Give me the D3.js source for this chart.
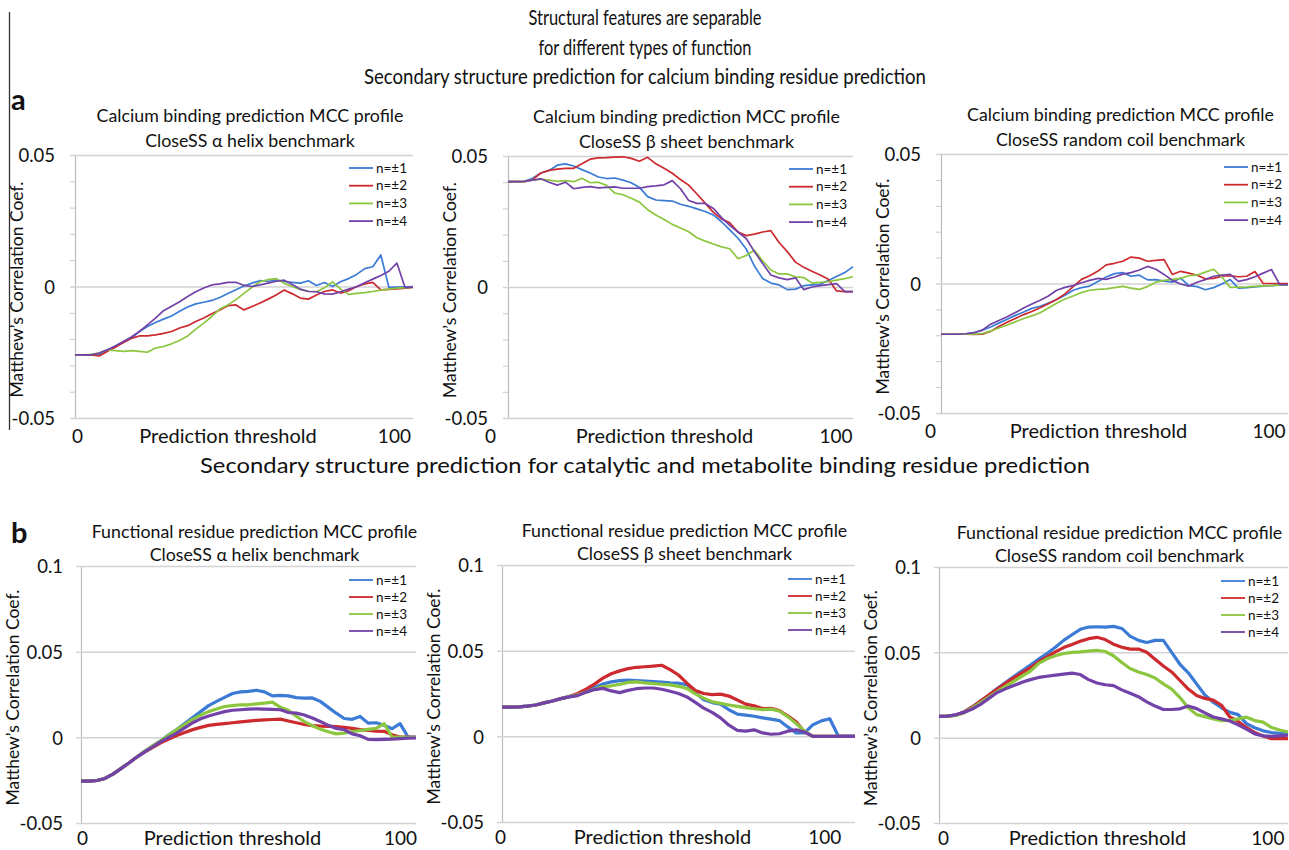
<!DOCTYPE html>
<html>
<head>
<meta charset="utf-8">
<script src="https://cdn.jsdelivr.net/npm/d3@7"></script>
<style>
  body { margin: 0; background: #fff; }
  svg { display: block; }
  text { font-family: Lato, "Open Sans", sans-serif; fill: #111; }
</style>
</head>
<body>
<svg id="chart" width="1289" height="850"></svg>
<script>
// thresholds 0..105 in steps of 2.5, MCC values below are x1000
const thresholds = d3.range(0, 105.01, 2.5);

const seriesNames = ['n=±1', 'n=±2', 'n=±3', 'n=±4'];

const ticksA = [-0.05, 0, 0.05];
const tickLabelsA = ['-0.05', '0', '0.05'];
const minorTicksA = [-0.04, -0.03, -0.02, -0.01, 0.01, 0.02, 0.03, 0.04];
const ticksB = [-0.05, 0, 0.05, 0.1];
const tickLabelsB = ['-0.05', '0', '0.05', '0.1'];
const xTicks = [0, 100];
const xTickLabels = ['0', '100'];

const headingTop = ['Structural features are separable', 'for different types of function',
  'Secondary structure prediction for calcium binding residue prediction'];
const headingB = 'Secondary structure prediction for catalytic and metabolite binding residue prediction';

const titleCaHelix = ['Calcium binding prediction MCC profile', 'CloseSS α helix benchmark'];
const titleCaSheet = ['Calcium binding prediction MCC profile', 'CloseSS β sheet benchmark'];
const titleCaCoil = ['Calcium binding prediction MCC profile', 'CloseSS random coil benchmark'];
const titleFnHelix = ['Functional residue prediction MCC profile', 'CloseSS α helix benchmark'];
const titleFnSheet = ['Functional residue prediction MCC profile', 'CloseSS β sheet benchmark'];
const titleFnCoil = ['Functional residue prediction MCC profile', 'CloseSS random coil benchmark'];

// --- a: calcium binding, alpha helix
const caHelixN1 = [-26,-26,-26,-25.8,-24.4, -22.8,-21.3,-19.7,-17.1,-15.2, -13.7,-12.4,-11.2,-9.4,-7.8,
  -6.6,-6.0,-5.3,-4.2,-2.7, -1.2,0.2,1.3,2.2,2.0, 2.4,1.9,1.6,1.3,2.2, 0.4,1.5,0.0,1.8,3.0,
  4.6,6.8,7.5,12.0,-0.3, -0.2,-0.1,0];
const caHelixN2 = [-26,-26,-26,-26.4,-24.7, -23.1,-21.3,-19.7,-18.8,-18.8, -18.4,-17.8,-17.1,-15.8,-14.9,
  -13.3,-12.0,-10.4,-8.9,-7.3, -7.0,-8.9,-7.6,-6.3,-4.8, -3.2,-1.3,-2.8,-4.4,-4.8, -3.2,-1.9,-1.3,-2.5,-1.6,
  0.0,1.0,1.6,-1.3,-1.1, -0.9,-0.6,-0.3];
const caHelixN3 = [-26,-26,-25.8,-25.3,-24.1, -24.4,-24.7,-24.4,-24.7,-25.0, -23.4,-22.8,-21.8,-20.5,-18.8,
  -16.2,-13.9,-11.4,-8.6,-7.0, -5.0,-2.6,-0.3,1.8,2.6, 3.0,1.2,0.0,-1.2,-1.8, -2.0,-0.5,1.8,-1.0,-3.0,
  -2.6,-2.3,-1.9,-1.4,-1.0, -0.6,-0.4,-0.3];
const caHelixN4 = [-26,-26,-26,-25.3,-24.1, -22.6,-20.9,-19.2,-17.1,-14.6, -12.0,-9.2,-7.5,-5.8,-3.8,
  -2.0,-0.6,0.6,1.0,1.6, 1.6,0.4,0.0,0.6,1.3, 2.0,2.4,0.8,-1.0,-1.9, -2.0,-2.8,-2.9,-2.0,-1.0,
  -0.1,1.4,2.8,4.2,5.8, 8.9,-0.3,-0.2];

// --- a: calcium binding, beta sheet
const caSheetN1 = [40.2,40.2,40.3,41.5,43.5, 44.5,46.5,47.0,46.2,44.8, 43.5,42.0,41.4,41.6,40.8,
  39.8,38.0,34.5,33.2,33.0, 32.8,31.6,30.8,29.8,28.8, 27.5,24.9,21.8,18.6,14.5, 8.0,3.2,1.5,0.8,-1.0,
  -0.8,0.5,0.8,1.0,2.5, 4.0,5.5,7.8];
const caSheetN2 = [40.2,40.2,40.2,41.0,43.5, 44.5,45.0,45.3,45.3,47.0, 48.8,49.3,49.4,49.6,49.7,
  49.1,48.0,49.5,47.0,45.3, 43.4,41.0,38.9,35.5,32.0, 28.5,26.0,24.5,21.0,19.6, 20.2,21.0,21.5,17.0,13.5,
  9.5,7.5,6.0,4.6,3.0, -1.5,-1.8,-1.8];
const caSheetN3 = [40.2,40.2,40.2,40.8,41.2, 40.8,40.3,40.6,40.2,41.5, 39.8,40.0,38.8,35.8,35.2,
  33.9,32.4,29.5,27.5,25.8, 23.9,22.5,21.1,18.8,17.5, 16.4,15.3,14.6,10.8,12.0, 14.0,10.0,6.5,5.0,5.0,
  3.9,3.6,1.5,1.8,2.0, 2.6,3.2,3.9];
const caSheetN4 = [40.2,40.2,40.3,40.8,41.3, 40.0,38.9,40.0,37.5,38.0, 38.3,37.8,38.0,38.2,37.7,
  37.7,37.7,38.3,38.6,39.0, 40.6,37.5,33.0,31.9,31.9, 30.0,26.5,23.5,21.0,18.5, 13.5,9.0,4.6,3.5,2.8,
  3.5,-1.0,0.0,0.5,0.9, 1.3,-1.8,-1.8];

// --- a: calcium binding, random coil
const caCoilN1 = [-19.6,-19.6,-19.6,-19.4,-19.0, -18.0,-16.8,-15.3,-13.8,-12.3, -11.0,-9.6,-8.8,-7.5,-6.2,
  -4.5,-2.6,-1.6,-1.0,0.8, 2.5,3.8,4.2,2.8,3.2, 1.4,1.5,0.9,0.5,2.1, -0.8,-1.2,-2.4,-1.6,-0.2,
  1.5,-1.8,-1.6,-1.3,-1.0, -0.8,-0.5,-0.4];
const caCoilN2 = [-19.6,-19.6,-19.6,-19.6,-19.7, -19.6,-18.5,-16.6,-15.0,-13.5, -12.0,-10.8,-9.4,-7.8,-6.2,
  -4.0,-1.2,1.6,3.0,4.8, 7.2,7.8,8.6,10.2,9.8, 8.6,8.9,9.2,3.5,4.7, 4.0,3.2,1.8,2.0,2.8,
  3.0,2.6,2.8,4.6,0.0, 0.0,0.0,0.0];
const caCoilN3 = [-19.6,-19.6,-19.6,-19.6,-19.6, -19.3,-18.4,-17.2,-16.0,-14.8, -13.5,-12.5,-11.3,-9.5,-7.6,
  -6.0,-4.8,-3.5,-2.6,-2.3, -2.1,-1.6,-1.1,-1.8,-2.3, -1.2,0.5,1.2,1.6,2.0, 3.0,3.3,4.4,5.5,2.5,
  -1.5,-1.4,-1.3,-1.1,-0.9, -0.8,-0.6,-0.5];
const caCoilN4 = [-19.6,-19.6,-19.6,-19.4,-19.0, -18.0,-15.7,-14.3,-12.8,-11.2, -9.5,-7.9,-6.5,-4.8,-2.6,
  -1.5,-0.8,0.3,1.2,2.0, 1.6,2.5,3.6,4.2,5.2, 6.6,5.5,3.5,1.2,-0.2, -1.0,0.5,1.5,2.8,3.2,
  3.5,0.8,1.5,2.6,4.0, 5.4,-0.4,-0.4];

// --- b: functional residues, alpha helix
const fnHelixN1 = [-25.6,-25.6,-25.2,-24.0,-21.5, -18.3,-15.0,-11.5,-8.0,-5.0, -2.0,1.5,4.5,8.0,11.5,
  15.0,18.5,21.0,23.3,25.6, 26.5,26.8,27.5,26.5,24.2, 24.5,24.2,23.2,22.9,23.0, 21.0,17.5,14.1,11.0,10.5,
  12.2,8.3,8.5,7.0,5.0, 8.0,0.2,0.2];
const fnHelixN2 = [-25.6,-25.6,-25.2,-24.0,-21.5, -18.3,-15.0,-11.5,-8.5,-5.8, -3.2,-1.0,1.0,2.8,4.5,
  5.8,7.0,7.6,8.0,8.5, 9.0,9.5,9.9,10.2,10.4, 10.6,9.5,8.5,7.5,6.8, 6.5,6.4,6.3,5.8,5.2,
  4.5,4.0,3.6,3.5,1.5, 0.2,0.1,0.0];
const fnHelixN3 = [-25.6,-25.6,-25.2,-24.0,-21.5, -18.3,-15.0,-11.5,-8.2,-5.0, -2.0,1.2,4.5,7.5,10.5,
  13.0,15.0,16.5,18.0,18.5, 19.0,19.0,19.5,20.0,20.5, 17.5,15.8,12.3,9.2,6.8, 4.8,3.3,2.0,2.5,3.3,
  4.0,4.6,5.2,8.0,0.2, 0.1,0.0,0.0];
const fnHelixN4 = [-25.6,-25.6,-25.2,-24.0,-21.5, -18.3,-15.0,-11.5,-8.5,-5.5, -2.5,0.0,2.5,5.5,8.5,
  10.8,12.5,13.8,15.0,15.8, 16.1,16.5,16.6,16.5,16.3, 16.1,14.5,14.1,13.0,11.3, 9.2,7.0,5.2,4.4,2.0,
  0.9,-1.2,-1.3,-1.2,-1.0, -0.8,-0.5,-0.4];

// --- b: functional residues, beta sheet
const fnSheetN1 = [17.1,17.1,17.2,17.6,18.3, 19.5,20.6,22.0,23.2,24.2, 26.0,28.5,30.5,31.8,32.5,
  32.8,32.5,32.3,32.0,31.6, 31.2,31.0,30.2,25.5,21.4, 19.7,18.8,15.5,13.0,12.4, 11.7,10.8,10.0,9.2,5.5,
  2.0,2.0,6.8,9.0,10.3, 0.3,0.2,0.2];
const fnSheetN2 = [17.1,17.1,17.2,17.6,18.3, 19.5,20.6,22.0,23.2,25.0, 27.5,30.5,34.0,36.5,38.2,
  39.5,40.3,40.6,41.0,41.5, 38.9,35.8,31.0,26.8,25.0, 24.3,24.6,23.5,21.2,18.8, 17.8,16.2,16.4,15.0,12.0,
  8.5,2.5,0.0,0.0,0.0, 0.0,0.0,0.0];
const fnSheetN3 = [17.1,17.1,17.2,17.6,18.3, 19.5,20.6,22.0,23.2,24.2, 25.8,27.5,29.0,29.5,30.3,
  31.5,31.8,31.2,30.8,30.4, 30.0,29.2,28.0,24.8,22.3, 20.2,19.2,18.3,17.5,16.8, 16.1,15.6,15.9,14.8,11.5,
  7.5,3.0,0.0,0.0,0.0, 0.0,0.0,0.0];
const fnSheetN4 = [17.1,17.1,17.2,17.6,18.3, 19.5,20.6,22.0,23.0,23.8, 25.8,27.3,28.0,26.5,25.5,
  26.8,27.8,28.2,28.2,27.5, 26.3,25.0,23.0,19.8,16.5, 14.0,10.8,6.5,3.5,3.0, 3.8,2.0,1.2,1.5,3.0,
  3.8,2.5,0.0,0.0,0.0, 0.0,0.0,0.0];

// --- b: functional residues, random coil
const fnCoilN1 = [12.5,12.6,13.2,15.0,18.0, 21.5,25.0,28.8,32.3,35.8, 39.2,42.6,46.0,49.3,53.0,
  57.0,60.3,63.5,64.8,65.0, 64.8,65.2,64.0,59.5,57.0, 55.8,57.0,57.0,50.0,43.0, 38.0,31.5,25.0,20.8,17.5,
  14.8,13.5,8.2,5.8,4.0, 3.0,2.5,2.3];
const fnCoilN2 = [12.5,12.6,13.2,15.0,18.0, 21.5,25.0,28.5,31.8,35.0, 38.0,41.0,44.5,47.3,50.3,
  52.8,54.6,56.5,58.0,58.8, 57.5,54.8,53.0,51.9,51.9, 50.0,46.0,42.0,38.5,33.5, 28.5,24.7,23.0,22.0,19.0,
  12.1,9.5,6.0,3.0,1.0, -0.6,-0.6,-0.6];
const fnCoilN3 = [12.5,12.6,13.0,14.5,17.5, 20.5,23.8,27.0,30.0,33.0, 36.0,39.0,43.5,46.2,48.0,
  49.3,50.0,50.3,50.8,51.2, 50.5,48.0,44.0,40.5,38.5, 37.0,35.0,31.5,28.5,23.5, 17.5,13.5,12.3,11.0,10.0,
  10.1,11.0,12.0,10.0,9.1, 6.0,4.5,3.3];
const fnCoilN4 = [12.5,12.6,13.4,14.8,16.8, 19.5,23.0,26.5,28.6,30.5, 32.5,34.0,35.3,36.0,36.6,
  37.2,37.8,37.0,34.0,32.0, 31.0,30.5,28.0,26.0,24.0, 21.0,18.5,16.5,16.5,16.9, 18.5,17.0,14.5,12.1,11.0,
  9.8,7.5,5.0,2.2,1.0, 0.8,1.0,1.4];

const colors = ['#3b7bd6', '#cc2a2e', '#8cc63f', '#7242a8'];

const panels = [
  { title: titleCaHelix, series: [caHelixN1, caHelixN2, caHelixN3, caHelixN4], ticks: ticksA, labels: tickLabelsA,
    minor: minorTicksA, dom: [-0.05, 0.05], l: 75, r: 413, t: 155, b: 418, zeroDx: 2, hundredDx: -3, row: 'a' },
  { title: titleCaSheet, series: [caSheetN1, caSheetN2, caSheetN3, caSheetN4], ticks: ticksA, labels: tickLabelsA,
    minor: minorTicksA, dom: [-0.05, 0.05], l: 508, r: 853, t: 156, b: 418, zeroDx: -18, hundredDx: -1, row: 'a' },
  { title: titleCaCoil, series: [caCoilN1, caCoilN2, caCoilN3, caCoilN4], ticks: ticksA, labels: tickLabelsA,
    minor: minorTicksA, dom: [-0.05, 0.05], l: 941, r: 1288, t: 154, b: 413, zeroDx: -11, hundredDx: -3, row: 'a' },
  { title: titleFnHelix, series: [fnHelixN1, fnHelixN2, fnHelixN3, fnHelixN4], ticks: ticksB, labels: tickLabelsB,
    minor: [], dom: [-0.05, 0.1], l: 81, r: 416, t: 566, b: 823, zeroDx: 1, hundredDx: 0, row: 'b' },
  { title: titleFnSheet, series: [fnSheetN1, fnSheetN2, fnSheetN3, fnSheetN4], ticks: ticksB, labels: tickLabelsB,
    minor: [], dom: [-0.05, 0.1], l: 502, r: 855, t: 565, b: 822, zeroDx: -2, hundredDx: -14, row: 'b' },
  { title: titleFnCoil, series: [fnCoilN1, fnCoilN2, fnCoilN3, fnCoilN4], ticks: ticksB, labels: tickLabelsB,
    minor: [], dom: [-0.05, 0.1], l: 939, r: 1288, t: 567, b: 823, zeroDx: 4, hundredDx: -4, row: 'b' }
];

const svg = d3.select('#chart');

// left border rule of panel a
svg.append('line')
  .attr('x1', 9.5).attr('x2', 9.5).attr('y1', 12).attr('y2', 430)
  .attr('stroke', '#333').attr('stroke-width', 1.3);

const headLens = [233, 213, 562];
headingTop.forEach(function(txt, i){
  svg.append('text')
    .attr('x', 645).attr('y', 25 + i * 29.5)
    .attr('text-anchor', 'middle')
    .attr('font-size', 21)
    .attr('textLength', headLens[i]).attr('lengthAdjust', 'spacingAndGlyphs')
    .text(txt);
});
svg.append('text')
  .attr('x', 645).attr('y', 473)
  .attr('text-anchor', 'middle')
  .attr('font-size', 21.5)
  .attr('textLength', 890).attr('lengthAdjust', 'spacingAndGlyphs')
  .text(headingB);

svg.append('text').attr('x', 11).attr('y', 110).attr('font-size', 29).attr('font-weight', 'bold').text('a');
svg.append('text').attr('x', 11).attr('y', 543).attr('font-size', 29).attr('font-weight', 'bold').text('b');

panels.forEach(function(p){
  const isA = p.row === 'a';
  const g = svg.append('g');
  const x = d3.scaleLinear().domain([0, 105]).range([p.l, p.r]);
  const y = d3.scaleLinear().domain(p.dom).range([p.b, p.t]);
  const w = p.r - p.l;

  // gridlines + tick labels
  const yAxis = g.append('g')
    .attr('transform', 'translate(' + p.l + ',0)')
    .call(d3.axisLeft(y).tickValues(p.ticks).tickSizeInner(-w).tickSizeOuter(0)
      .tickPadding(isA ? 20 : 18).tickFormat(function(d, i){ return p.labels[i]; }));
  yAxis.select('.domain').attr('stroke', '#bdbdbd').attr('stroke-width', 1.2);
  yAxis.selectAll('.tick line').attr('x1', -5).attr('stroke', '#d3d3d3').attr('stroke-width', 1.5);
  yAxis.selectAll('.tick text')
    .attr('font-family', 'Lato, sans-serif').attr('font-size', 18.5).attr('fill', '#111').attr('dy', '0.36em');

  if (p.minor.length) {
    const minorAxis = g.append('g')
      .attr('transform', 'translate(' + p.l + ',0)')
      .call(d3.axisLeft(y).tickValues(p.minor).tickSize(5).tickFormat(''));
    minorAxis.select('.domain').remove();
    minorAxis.selectAll('.tick line').attr('stroke', '#c8c8c8').attr('stroke-width', 1);
  }

  // x labels
  const xAxis = g.append('g')
    .attr('transform', 'translate(0,' + p.b + ')')
    .call(d3.axisBottom(x).tickValues(xTicks).tickSize(0).tickPadding(isA ? 12 : 9)
      .tickFormat(function(d, i){ return xTickLabels[i]; }));
  xAxis.select('.domain').remove();
  xAxis.selectAll('.tick text')
    .attr('font-family', 'Lato, sans-serif').attr('font-size', 19).attr('fill', '#111')
    .attr('dx', function(d){ return d === 0 ? p.zeroDx : p.hundredDx; });

  g.append('text')
    .attr('x', (p.l + p.r) / 2 - 16).attr('y', p.b + (isA ? 25 : 22))
    .attr('text-anchor', 'middle').attr('font-size', 20)
    .text('Prediction threshold');

  const cy = (p.t + p.b) / 2 + 3;
  const yx = p.l - (isA ? 52 : 62);
  g.append('text')
    .attr('transform', 'translate(' + yx + ',' + cy + ') rotate(-90)')
    .attr('text-anchor', 'middle').attr('font-size', 17.5)
    .text('Matthew’s Correlation Coef.');

  // panel title
  const tx = (p.l + p.r) / 2 + 6;
  p.title.forEach(function(line, i){
    g.append('text')
      .attr('x', tx).attr('y', isA ? p.t - 33 + i * 25 : p.t - 28 + i * 23)
      .attr('text-anchor', 'middle').attr('font-size', 17.8)
      .text(line);
  });

  // series
  const line = d3.line()
    .x(function(d, i){ return x(thresholds[i]); })
    .y(function(d){ return y(d / 1000); });
  p.series.forEach(function(vals, k){
    g.append('path')
      .datum(vals)
      .attr('d', line)
      .attr('fill', 'none')
      .attr('stroke', colors[k])
      .attr('stroke-width', isA ? 1.7 : 3.2)
      .attr('stroke-linejoin', 'round');
  });

  // legend
  const lx = p.r - (isA ? 64 : 67);
  seriesNames.forEach(function(name, k){
    const ly = p.t + (isA ? 13 + k * 17.7 : 14 + k * 17);
    g.append('line')
      .attr('x1', lx).attr('x2', lx + 24).attr('y1', ly).attr('y2', ly)
      .attr('stroke', colors[k]).attr('stroke-width', 1.8);
    g.append('text')
      .attr('x', lx + 27).attr('y', ly + 4.5)
      .attr('font-size', 13.5)
      .text(name);
  });
});
</script>
</body>
</html>
